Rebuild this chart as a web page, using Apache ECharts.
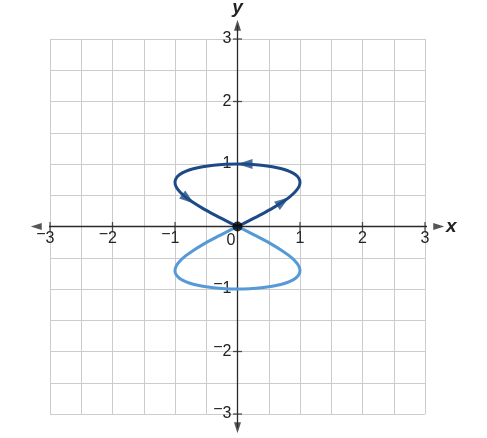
<!DOCTYPE html>
<html><head><meta charset="utf-8">
<script src="https://cdn.jsdelivr.net/npm/echarts@6/dist/echarts.min.js"></script>
<style>html,body{margin:0;padding:0;background:#fff}#c{width:487px;height:438px}</style>
</head><body><div id="c"></div>
<script>
// axis settings
const axisMin = -3, axisMax = 3, gridStep = 0.5;
const tickValues = [-3, -2, -1, 1, 2, 3];
const axisExtent = 3.22;

// upper loop (dark), traversed from origin to the right, up, left, back
const upperLoopX = [0, 0.195, 0.383, 0.556, 0.707, 0.831, 0.924, 0.981, 1, 0.981, 0.924, 0.831, 0.707, 0.556, 0.383, 0.195, 0,
  -0.195, -0.383, -0.556, -0.707, -0.831, -0.924, -0.981, -1, -0.981, -0.924, -0.831, -0.707, -0.556, -0.383, -0.195, 0];
const upperLoopY = [0, 0.098, 0.195, 0.290, 0.383, 0.471, 0.556, 0.634, 0.707, 0.773, 0.831, 0.882, 0.924, 0.957, 0.981, 0.995, 1,
  0.995, 0.981, 0.957, 0.924, 0.882, 0.831, 0.773, 0.707, 0.634, 0.556, 0.471, 0.383, 0.290, 0.195, 0.098, 0];
// lower loop (light)
const lowerLoopX = [0, 0.195, 0.383, 0.556, 0.707, 0.831, 0.924, 0.981, 1, 0.981, 0.924, 0.831, 0.707, 0.556, 0.383, 0.195, 0,
  -0.195, -0.383, -0.556, -0.707, -0.831, -0.924, -0.981, -1, -0.981, -0.924, -0.831, -0.707, -0.556, -0.383, -0.195, 0];
const lowerLoopY = [0, -0.098, -0.195, -0.290, -0.383, -0.471, -0.556, -0.634, -0.707, -0.773, -0.831, -0.882, -0.924, -0.957, -0.981, -0.995, -1,
  -0.995, -0.981, -0.957, -0.924, -0.882, -0.831, -0.773, -0.707, -0.634, -0.556, -0.471, -0.383, -0.290, -0.195, -0.098, 0];

// direction arrows on the upper loop
const arrowX = [0.73, 0.12, -0.79];
const arrowY = [0.40, 1.0, 0.44];
const arrowAngle = [-55, 90, -127.5];

const originPoint = [[0, 0]];

const zip = (a, b) => a.map((v, i) => [v, b[i]]);

const FONT = 'Liberation Sans, Arial, sans-serif';
const rich = {
  m: { fontSize: 16, fontFamily: FONT, color: '#222', padding: [0, 0, 8, 0] },
  h: { fontSize: 16, fontFamily: FONT, color: 'transparent', padding: [0, 0, 8, 0] },
  d: { fontSize: 16, fontFamily: FONT, color: '#222' },
  z: { fontSize: 16, fontFamily: FONT, color: '#222', padding: [6, 13, 0, 0] }
};
function isInt(v) { return Math.abs(v - Math.round(v)) < 1e-9; }
function xLabel(v) {
  if (!isInt(v)) return '';
  if (Math.round(v) === 0) return '{z|0}';
  const n = Math.abs(Math.round(v));
  return (v < 0 ? '{m|−}' : '{h|−}') + '{d|' + n + '}{h|−}';
}
function yLabel(v) {
  if (!isInt(v) || Math.round(v) === 0) return '';
  const n = Math.abs(Math.round(v));
  return (v < 0 ? '{m|−}' : '{h|−}') + '{d|' + n + '}';
}

const AXIS_COLOR = '#2a2a2a';
const GRID_LEFT = 50, GRID_TOP = 39, GRID_SIZE = 375;
const HALF = GRID_SIZE / 2;

const chart = echarts.init(document.getElementById('c'), null, { renderer: 'canvas' });
chart.setOption({
  animation: false,
  backgroundColor: '#fff',
  grid: { left: GRID_LEFT, top: GRID_TOP, width: GRID_SIZE, height: GRID_SIZE, outerBoundsMode: 'none', containLabel: false },
  xAxis: {
    type: 'value', min: axisMin, max: axisMax, interval: gridStep,
    position: 'bottom', offset: -HALF,
    axisLine: { show: false, onZero: false },
    axisTick: { show: false },
    splitLine: { show: true, lineStyle: { color: '#cccccc', width: 1 } },
    axisLabel: { formatter: xLabel, rich: rich, margin: 0, fontSize: 16, fontFamily: FONT, color: '#222' },
    name: 'x', nameLocation: 'end', nameGap: 21,
    nameTextStyle: { fontStyle: 'italic', fontWeight: 'bold', fontSize: 19, fontFamily: FONT, color: '#222', align: 'left', verticalAlign: 'middle' }
  },
  yAxis: {
    type: 'value', min: axisMin, max: axisMax, interval: gridStep,
    position: 'left', offset: -HALF,
    axisLine: { show: false, onZero: false },
    axisTick: { show: false },
    splitLine: { show: true, lineStyle: { color: '#cccccc', width: 1 } },
    axisLabel: { formatter: yLabel, rich: rich, margin: 6, fontSize: 16, fontFamily: FONT, color: '#222' },
    name: 'y', nameLocation: 'end', nameGap: 22,
    nameTextStyle: { fontStyle: 'italic', fontWeight: 'bold', fontSize: 19, fontFamily: FONT, color: '#222' }
  },
  series: [
    {
      type: 'line', name: 'xAxisLine', data: [[-axisExtent, 0], [axisExtent, 0]], clip: false, silent: true,
      showSymbol: false, lineStyle: { color: AXIS_COLOR, width: 1.3 }, z: 3
    },
    {
      type: 'line', name: 'yAxisLine', data: [[0, -axisExtent], [0, axisExtent]], clip: false, silent: true,
      showSymbol: false, lineStyle: { color: AXIS_COLOR, width: 1.3 }, z: 3
    },
    {
      type: 'scatter', name: 'axisArrows', clip: false, silent: true, z: 3, symbol: 'triangle', symbolSize: [7, 11],
      itemStyle: { color: AXIS_COLOR },
      data: [
        { value: [axisExtent, 0], symbolRotate: -90 },
        { value: [-axisExtent, 0], symbolRotate: 90 },
        { value: [0, axisExtent], symbolRotate: 0 },
        { value: [0, -axisExtent], symbolRotate: 180 }
      ]
    },
    {
      type: 'scatter', name: 'ticks', silent: true, clip: false, z: 3,
      symbol: 'rect',
      data: tickValues.map(v => ({ value: [v, 0], symbolSize: [1.3, 9] }))
        .concat(tickValues.map(v => ({ value: [0, v], symbolSize: [9, 1.3] }))),
      itemStyle: { color: AXIS_COLOR }
    },
    {
      type: 'line', name: 'lower', data: zip(lowerLoopX, lowerLoopY), showSymbol: false, smooth: 0.3,
      lineStyle: { color: '#559ad6', width: 3 }, silent: true, z: 4
    },
    {
      type: 'line', name: 'upper', data: zip(upperLoopX, upperLoopY), showSymbol: false, smooth: 0.3,
      lineStyle: { color: '#1d4a86', width: 3 }, silent: true, z: 5
    },
    {
      type: 'scatter', name: 'arrows', silent: true, z: 6, symbol: 'triangle', symbolSize: [10, 15],
      itemStyle: { color: '#1d4a86' },
      data: arrowX.map((x, i) => ({ value: [x, arrowY[i]], symbolRotate: arrowAngle[i] }))
    },
    {
      type: 'scatter', name: 'origin', silent: true, z: 7, symbol: 'circle', symbolSize: 10,
      itemStyle: { color: '#000' }, data: originPoint
    }
  ]
});
</script>
</body></html>
